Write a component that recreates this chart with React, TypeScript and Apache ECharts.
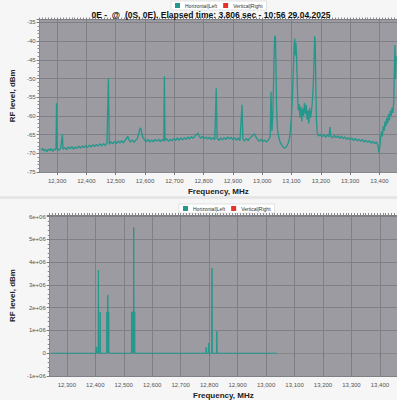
import React, { useEffect, useRef } from "react";
import * as echarts from "echarts";

const TITLE = "0E -  @  (0S, 0E). Elapsed time: 3.806 sec - 10:56 29.04.2025";
const SERIES_NAMES = ["Horizontal|Left", "Vertical|Right"];
const X_AXIS_NAME = "Frequency, MHz";
const Y_AXIS_NAME = "RF level, dBm";

// Upper chart: RF level (dBm) vs frequency (MHz)
const topHorizontal: [number, number][] = [
  [12245, -69.2], [12250, -68.6], [12255, -69.4], [12260, -68.9], [12265, -69.6], [12270, -68.8],
  [12275, -69.3], [12280, -68.7], [12285, -69.5], [12290, -68.9], [12296, -69.1], [12298, -56.6],
  [12300, -68.7], [12306, -69.2], [12312, -68.6], [12318, -65.0], [12320, -68.9], [12326, -68.4],
  [12332, -69.0], [12338, -68.3], [12344, -68.8], [12350, -68.2], [12356, -68.9], [12362, -68.3],
  [12368, -68.7], [12374, -68.1], [12380, -68.6], [12386, -68.0], [12392, -68.5], [12398, -67.9],
  [12404, -68.4], [12410, -67.8], [12416, -68.3], [12422, -67.7], [12428, -68.2], [12434, -67.6],
  [12440, -68.1], [12446, -67.5], [12452, -68.0], [12458, -67.4], [12464, -67.9], [12470, -67.3],
  [12475, -50.0], [12478, -67.6], [12484, -66.9], [12490, -67.5], [12496, -66.8], [12502, -67.4],
  [12508, -66.7], [12514, -67.3], [12520, -66.6], [12526, -67.2], [12532, -66.5], [12538, -65.9],
  [12541, -65.4], [12544, -66.2], [12550, -67.0], [12556, -66.4], [12562, -67.1], [12568, -66.5],
  [12574, -66.0], [12578, -64.8], [12582, -63.6], [12585, -63.2], [12588, -64.3], [12592, -65.6],
  [12598, -66.4], [12604, -66.9], [12610, -66.3], [12616, -67.0], [12622, -66.4], [12628, -66.9],
  [12634, -66.3], [12640, -66.8], [12646, -66.2], [12652, -66.9], [12658, -66.3], [12664, -66.7],
  [12666, -49.4], [12668, -66.6], [12674, -66.1], [12680, -66.8], [12686, -66.2], [12692, -66.7],
  [12698, -66.0], [12704, -66.6], [12710, -65.9], [12716, -66.5], [12722, -65.9], [12728, -66.4],
  [12734, -65.8], [12740, -66.3], [12746, -65.6], [12752, -66.2], [12758, -65.5], [12764, -66.0],
  [12770, -65.4], [12776, -65.0], [12780, -64.6], [12784, -65.3], [12790, -66.0], [12796, -65.5],
  [12802, -66.1], [12808, -65.6], [12814, -66.2], [12820, -65.7], [12826, -66.3], [12832, -65.8],
  [12838, -66.4], [12843, -52.6], [12846, -66.0], [12852, -66.5], [12858, -65.9], [12864, -66.4],
  [12870, -65.8], [12876, -66.3], [12882, -65.6], [12888, -66.2], [12894, -65.7], [12900, -66.4],
  [12906, -65.8], [12912, -66.5], [12918, -65.9], [12924, -66.6], [12931, -57.0], [12934, -66.2],
  [12940, -66.7], [12946, -66.0], [12952, -66.6], [12958, -65.9], [12964, -65.5], [12970, -65.0],
  [12974, -64.8], [12978, -65.6], [12984, -66.3], [12990, -66.8], [12996, -66.2], [13002, -66.9],
  [13008, -66.4], [13014, -67.0], [13020, -66.5], [13024, -66.0], [13027, -65.5], [13030, -53.5],
  [13033, -64.0], [13036, -60.0], [13039, -50.0], [13041, -42.0], [13043, -38.5], [13045, -39.0],
  [13047, -47.0], [13049, -58.0], [13052, -63.5], [13056, -65.5], [13060, -66.8], [13065, -67.6],
  [13070, -68.2], [13075, -68.6], [13080, -68.4], [13085, -67.9], [13090, -67.0], [13094, -65.5],
  [13097, -63.0], [13100, -60.0], [13103, -55.0], [13106, -48.0], [13109, -41.0], [13111, -39.3],
  [13113, -43.8], [13115, -40.5], [13117, -44.0], [13119, -49.0], [13121, -55.0], [13123, -58.5],
  [13126, -56.8], [13129, -60.5], [13132, -57.5], [13135, -61.5], [13138, -58.0], [13141, -60.0],
  [13144, -56.5], [13147, -59.5], [13150, -57.0], [13153, -61.0], [13156, -58.5], [13159, -62.0],
  [13162, -57.8], [13165, -60.5], [13168, -58.8], [13171, -56.2], [13174, -52.0], [13177, -45.0],
  [13179, -38.7], [13181, -40.5], [13183, -52.0], [13185, -61.0], [13188, -64.6], [13192, -65.4],
  [13198, -64.9], [13204, -65.6], [13210, -65.0], [13216, -65.7], [13222, -65.1], [13228, -65.6],
  [13231, -63.0], [13234, -65.4], [13240, -65.9], [13246, -65.2], [13252, -65.8], [13258, -65.3],
  [13264, -66.0], [13270, -65.4], [13276, -66.1], [13282, -65.6], [13288, -66.3], [13294, -65.8],
  [13300, -66.4], [13306, -65.9], [13312, -66.6], [13318, -66.0], [13324, -66.7], [13330, -66.2],
  [13336, -66.8], [13342, -66.3], [13348, -67.0], [13354, -66.5], [13360, -67.1], [13366, -66.6],
  [13372, -67.3], [13378, -66.8], [13384, -67.4], [13390, -67.0], [13395, -67.8], [13398, -69.8],
  [13401, -68.4], [13404, -66.0], [13407, -64.2], [13410, -65.5], [13413, -62.8], [13416, -64.0],
  [13419, -61.5], [13422, -62.8], [13425, -60.6], [13428, -62.0], [13431, -59.5], [13434, -61.2],
  [13437, -58.6], [13440, -60.0], [13443, -57.8], [13446, -59.2], [13449, -56.0], [13451, -48.0],
  [13453, -41.0], [13455, -50.0], [13457, -44.0],
];
const topVertical: [number, number][] = [];

// Lower chart: linear level vs frequency (MHz)
const bottomHorizontal: [number, number][] = [
  [12243, 0], [12403, 0], [12403, 260000], [12406, 260000], [12406, 0],
  [12410, 0], [12411, 3650000], [12412, 0], [12416, 0], [12417, 1800000], [12418, 0],
  [12440, 0], [12440, 1800000], [12443, 1800000], [12444, 2560000], [12445, 1800000], [12448, 1800000], [12448, 0],
  [12527, 0], [12527, 1800000], [12534, 1800000], [12535, 5520000], [12536, 1800000], [12539, 1800000], [12539, 0],
  [12789, 0], [12789, 260000], [12791, 260000], [12791, 0], [12797, 0], [12798, 450000], [12799, 0],
  [12809, 0], [12810, 3740000], [12811, 0], [12826, 0], [12827, 960000], [12828, 0], [13038, 0],
];
const bottomVertical: [number, number][] = [];

const X_MIN = 12240;
const X_MAX = 13460;
const X_TICKS = [12300, 12400, 12500, 12600, 12700, 12800, 12900, 13000, 13100, 13200, 13300, 13400];
const TOP_Y = { min: -75, max: -34.2, interval: 5 };
const BOTTOM_Y = { min: -1000000, max: 6070000, interval: 1000000 };

const TEAL = "#23988b";
const RED = "#e5322d";
const PLOT_BG = "#9c9ba2";
const GRID_LINE = "#7f7f86";
const LABEL_FONT = "Liberation Sans";

function fmtFreq(v: number) {
  return v.toLocaleString("en-US");
}
function fmtSci(v: number) {
  if (v === 0) return "0";
  return (v < 0 ? "-" : "") + Math.abs(v) / 1e6 + "e+06";
}

function xAxisCfg(gridIndex: number) {
  return {
    type: "value",
    gridIndex,
    min: X_MIN,
    max: X_MAX,
    name: X_AXIS_NAME,
    nameLocation: "middle",
    nameGap: 15,
    nameTextStyle: { fontFamily: LABEL_FONT, fontSize: 8, fontWeight: "bold", color: "#222" },
    axisLine: { show: true, lineStyle: { color: "#888", width: 1 } },
    axisTick: { show: true, length: 3, customValues: X_TICKS, lineStyle: { color: "#777" } },
    axisLabel: {
      fontFamily: LABEL_FONT, fontSize: 6, color: "#555", margin: 6,
      customValues: X_TICKS, formatter: fmtFreq,
    },
    splitLine: { show: true, lineStyle: { color: GRID_LINE, width: 1 } },
  };
}

function xMinorAxisCfg(gridIndex: number) {
  return {
    type: "value",
    gridIndex,
    min: X_MIN,
    max: X_MAX,
    interval: 10,
    axisLine: { show: false },
    axisTick: { show: true, length: 2, lineStyle: { color: "#888" } },
    axisLabel: { show: false },
    splitLine: { show: false },
  };
}

function yAxisCfg(gridIndex: number, cfg: any, nameGap: number, formatter?: any) {
  return {
    type: "value",
    gridIndex,
    min: cfg.min,
    max: cfg.max,
    interval: cfg.interval,
    name: Y_AXIS_NAME,
    nameLocation: "middle",
    nameGap,
    nameRotate: 90,
    nameTextStyle: { fontFamily: LABEL_FONT, fontSize: 8, fontWeight: "bold", color: "#222" },
    axisLine: { show: true, lineStyle: { color: "#888", width: 1 } },
    axisTick: { show: true, length: 3, lineStyle: { color: "#777" } },
    minorTick: { show: true, splitNumber: 5, length: 2, lineStyle: { color: "#888" } },
    axisLabel: {
      fontFamily: LABEL_FONT, fontSize: 6, color: "#555", margin: 4,
      showMaxLabel: false, formatter,
    },
    splitLine: { show: true, lineStyle: { color: GRID_LINE, width: 1 } },
  };
}

function legendCfg(left: number, top: number) {
  return {
    left, top,
    icon: "rect",
    itemWidth: 5, itemHeight: 5, itemGap: 6,
    padding: [2, 4],
    backgroundColor: "#ffffff",
    borderColor: "#c8c8c8", borderWidth: 0.5,
    textStyle: { fontFamily: LABEL_FONT, fontSize: 5, color: "#333" },
    data: SERIES_NAMES,
  };
}

export default function App() {
  const ref = useRef<HTMLDivElement>(null);
  useEffect(() => {
    if (!ref.current) return;
    const chart = echarts.init(ref.current, undefined, { renderer: "svg" });
    chart.setOption({
      animation: false,
      backgroundColor: "#f6f6f6",
      color: [TEAL, RED],
      title: {
        text: TITLE,
        left: 211, top: 10, padding: 0, textAlign: "center",
        textStyle: { fontFamily: LABEL_FONT, fontSize: 8.5, fontWeight: "bold", color: "#111" },
      },
      legend: [legendCfg(171, 1), legendCfg(179, 204)],
      graphic: [
        { type: "rect", shape: { x: 0, y: 196, width: 397, height: 3 }, style: { fill: "#e6e6e6" }, silent: true },
      ],
      grid: [
        { left: 25, top: 19.5, width: 372, height: 152.5, show: true, backgroundColor: PLOT_BG, borderWidth: 0 },
        { left: 35, top: 215, width: 362, height: 163, show: true, backgroundColor: PLOT_BG, borderWidth: 0 },
      ],
      xAxis: [xAxisCfg(0), xAxisCfg(1), xMinorAxisCfg(0), xMinorAxisCfg(1)],
      yAxis: [
        yAxisCfg(0, TOP_Y, 16),
        yAxisCfg(1, BOTTOM_Y, 27, fmtSci),
      ],
      series: [
        {
          name: SERIES_NAMES[0], type: "line", xAxisIndex: 0, yAxisIndex: 0,
          data: topHorizontal, showSymbol: false, symbol: "none",
          lineStyle: { color: TEAL, width: 1.3 },
        },
        {
          name: SERIES_NAMES[1], type: "line", xAxisIndex: 0, yAxisIndex: 0,
          data: topVertical, showSymbol: false, symbol: "none",
          lineStyle: { color: RED, width: 1 },
        },
        {
          name: SERIES_NAMES[0], type: "line", xAxisIndex: 1, yAxisIndex: 1,
          data: bottomHorizontal, showSymbol: false, symbol: "none",
          lineStyle: { color: TEAL, width: 1 },
          areaStyle: { color: TEAL, opacity: 1 },
        },
        {
          name: SERIES_NAMES[1], type: "line", xAxisIndex: 1, yAxisIndex: 1,
          data: bottomVertical, showSymbol: false, symbol: "none",
          lineStyle: { color: RED, width: 1 },
        },
      ],
    });
    return () => chart.dispose();
  }, []);
  return (
    <div
      ref={ref}
      style={{ position: "fixed", left: 0, top: 0, width: 397, height: 400 }}
    />
  );
}
